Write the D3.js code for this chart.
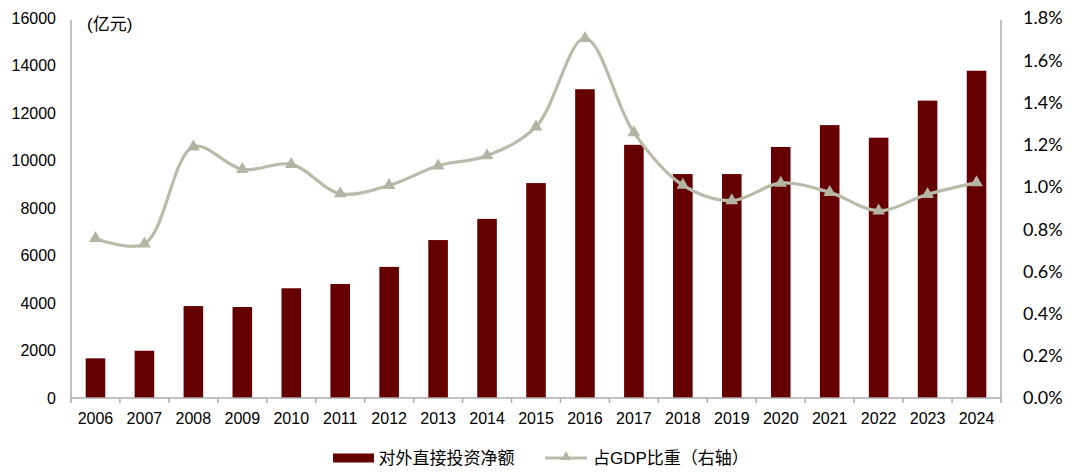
<!DOCTYPE html>
<html>
<head>
<meta charset="utf-8">
<script src="https://cdn.jsdelivr.net/npm/d3@7"></script>
<style>
  html, body { margin: 0; padding: 0; background: #fff; }
  svg { display: block; }
</style>
</head>
<body>
<svg id="chart" width="1080" height="476"></svg>
<script>
const years = ["2006","2007","2008","2009","2010","2011","2012","2013","2014","2015","2016","2017","2018","2019","2020","2021","2022","2023","2024"];
const netOFDI = [1670, 1990, 3870, 3830, 4620, 4800, 5520, 6650, 7540, 9050, 13000, 10660, 9430, 9430, 10570, 11490, 10960, 12520, 13780];
const gdpShare = [0.756, 0.73, 1.19, 1.083, 1.107, 0.968, 1.007, 1.10, 1.148, 1.285, 1.704, 1.257, 1.008, 0.935, 1.018, 0.974, 0.887, 0.965, 1.02];
const leftTicks = [0, 2000, 4000, 6000, 8000, 10000, 12000, 14000, 16000];
const rightTicks = [0, 0.2, 0.4, 0.6, 0.8, 1.0, 1.2, 1.4, 1.6, 1.8];
const barLabel = "对外直接投资净额";
const lineLabel = "占GDP比重（右轴）";
const unitLabel = "(亿元)";

const svg = d3.select("#chart");
const pLeft = 71, pRight = 1001, pTop = 18, pBottom = 398;
const barColor = "#660000";
const lineColor = "#BBBBAA";
const markColor = "#B4B4A2";
const axisColor = "#ADADAD";
const latin = "'Liberation Sans', Arial, 'Noto Sans CJK SC', sans-serif";
const cjk = "'Liberation Sans', 'Noto Sans CJK SC', sans-serif";

const slot = d3.scaleBand().domain(years).range([pLeft, pRight]).padding(0);
const yL = d3.scaleLinear().domain([0, 16000]).range([pBottom, pTop]);
const yR = d3.scaleLinear().domain([0, 1.8]).range([pBottom, pTop]);
const barW = slot.bandwidth() * 0.4;

// bars
svg.append("g").selectAll("rect").data(years).join("rect")
  .attr("x", (d) => slot(d) + slot.bandwidth() / 2 - barW / 2)
  .attr("y", (d, i) => yL(netOFDI[i]))
  .attr("width", barW)
  .attr("height", (d, i) => pBottom - yL(netOFDI[i]))
  .attr("fill", barColor);

// axes lines
const ax = svg.append("g");
ax.append("line").attr("x1", pLeft).attr("x2", pLeft).attr("y1", pTop + 2).attr("y2", pBottom)
  .attr("stroke", axisColor).attr("stroke-width", 1.5);
ax.append("line").attr("x1", pRight).attr("x2", pRight).attr("y1", pTop + 2).attr("y2", pBottom)
  .attr("stroke", axisColor).attr("stroke-width", 1.5);
ax.append("line").attr("x1", pLeft).attr("x2", pRight).attr("y1", pBottom).attr("y2", pBottom)
  .attr("stroke", axisColor).attr("stroke-width", 1.5);
const bounds = years.map(d => slot(d)).concat([pRight]);
ax.selectAll("line.tk").data(bounds).join("line").attr("class", "tk")
  .attr("x1", d => d).attr("x2", d => d).attr("y1", pBottom).attr("y2", pBottom + 5)
  .attr("stroke", axisColor).attr("stroke-width", 1.5);

// left tick labels
svg.append("g").selectAll("text").data(leftTicks).join("text")
  .attr("x", 56).attr("y", d => yL(d)).attr("dy", "0.35em")
  .attr("text-anchor", "end").attr("font-family", latin).attr("font-size", 16).attr("fill", "#000")
  .text(d => d);

// right tick labels
svg.append("g").selectAll("text").data(rightTicks).join("text")
  .attr("x", 1023).attr("y", d => yR(d)).attr("dy", "0.36em")
  .attr("text-anchor", "start").attr("font-family", "Lato, 'Open Sans', sans-serif").attr("font-size", 18).attr("fill", "#000")
  .text(d => d.toFixed(1) + "%");

// x labels
svg.append("g").selectAll("text").data(years).join("text")
  .attr("x", d => slot(d) + slot.bandwidth() / 2).attr("y", 418).attr("dy", "0.35em")
  .attr("text-anchor", "middle").attr("font-family", latin).attr("font-size", 16).attr("fill", "#000")
  .text(d => d);

// unit label
svg.append("text").attr("x", 87).attr("y", 24).attr("dy", "0.35em")
  .attr("font-family", cjk).attr("font-size", 17).attr("fill", "#000").text(unitLabel);

// line
const pts = years.map((d, i) => [slot(d) + slot.bandwidth() / 2, yR(gdpShare[i])]);
svg.append("path").attr("d", d3.line().curve(d3.curveCatmullRom.alpha(0.5))(pts))
  .attr("fill", "none").attr("stroke", lineColor).attr("stroke-width", 3.2);
const tri = d3.symbol().type(d3.symbolTriangle).size(70);
svg.append("g").selectAll("path").data(pts).join("path")
  .attr("d", tri).attr("transform", d => `translate(${d[0]},${d[1]})`)
  .attr("fill", markColor);

// legend
const lg = svg.append("g");
lg.append("rect").attr("x", 333).attr("y", 453.5).attr("width", 41).attr("height", 9).attr("fill", barColor);
lg.append("text").attr("x", 378.5).attr("y", 458).attr("dy", "0.35em")
  .attr("font-family", cjk).attr("font-size", 17).attr("fill", "#000").text(barLabel);
lg.append("line").attr("x1", 545).attr("x2", 587).attr("y1", 458).attr("y2", 458)
  .attr("stroke", lineColor).attr("stroke-width", 3);
const triSmall = d3.symbol().type(d3.symbolTriangle).size(45);
lg.append("path").attr("d", triSmall).attr("transform", "translate(566,457)").attr("fill", markColor);
lg.append("text").attr("x", 593).attr("y", 458).attr("dy", "0.35em")
  .attr("font-family", cjk).attr("font-size", 17).attr("fill", "#000").text(lineLabel);
</script>
</body>
</html>
